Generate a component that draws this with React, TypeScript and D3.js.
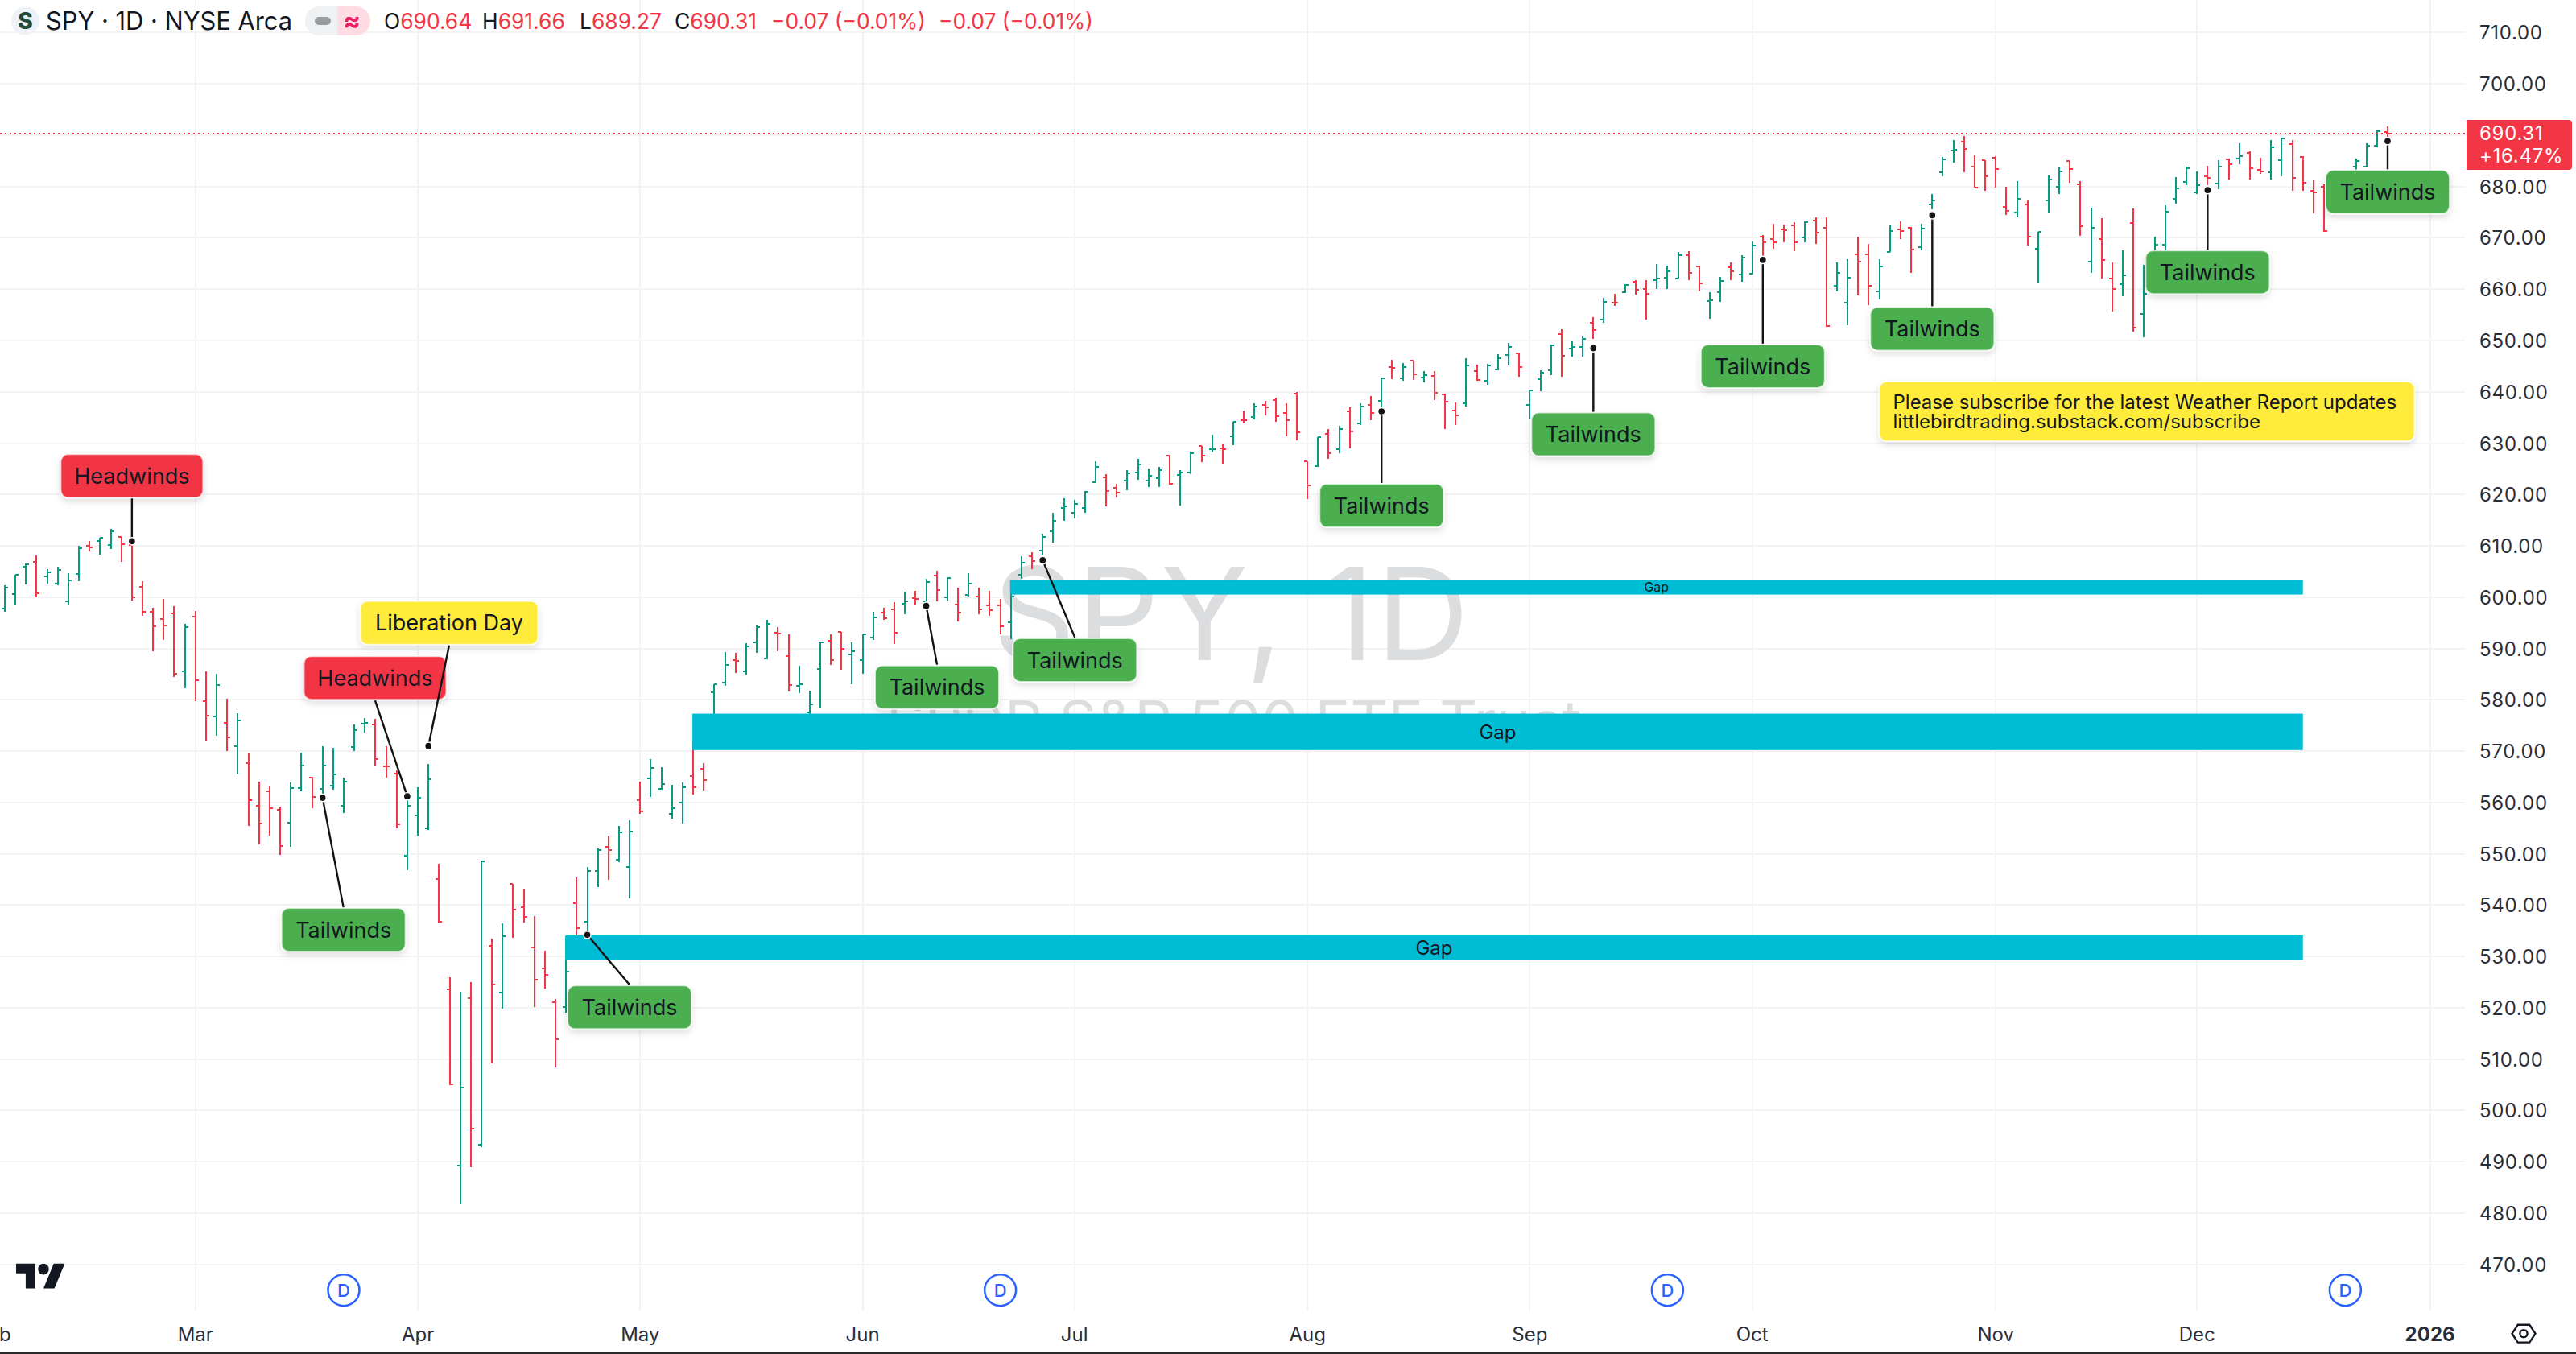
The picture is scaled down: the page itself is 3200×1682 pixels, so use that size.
import React from "react";
import * as d3 from "d3";

const opens = [
  597.7,600.6,605.9,606.8,604.0,602.6,599.2,604.5,610.0,610.9,
  610.1,611.7,610.1,602.0,597.1,595.8,596.8,585.5,596.2,579.7,
  576.7,575.5,570.9,567.6,559.3,562.2,558.6,556.0,562.8,564.9,
  562.7,563.2,559.3,570.8,575.3,575.2,567.1,565.6,549.7,557.4,
  555.0,545.0,523.6,489.2,521.8,493.3,532.1,522.9,544.1,539.6,
  531.7,527.6,521.1,520.1,540.3,536.7,546.6,551.3,548.9,547.5,
  560.5,564.7,562.7,557.8,560.0,565.2,566.5,581.4,583.3,587.7,
  585.5,591.2,588.1,593.0,588.5,582.7,577.5,586.0,591.5,593.2,
  588.9,587.7,592.1,597.0,597.6,598.7,599.8,599.2,604.2,600.0,
  598.6,600.4,600.2,598.4,598.4,595.1,604.4,608.0,609.1,612.8,
  617.3,616.4,617.3,622.4,623.3,621.3,622.7,624.3,622.7,623.2,
  627.6,623.8,624.2,629.4,628.8,629.0,631.4,634.5,635.1,637.5,
  638.4,635.9,639.7,626.4,625.5,631.8,628.9,636.2,633.9,637.5,
  638.2,644.8,642.7,646.0,642.8,643.1,639.5,636.3,637.7,644.0,
  642.1,644.4,647.1,647.5,637.4,642.5,644.2,651.3,648.5,648.8,
  653.5,654.1,657.4,659.4,661.4,660.0,661.8,662.3,662.1,666.6,
  664.5,657.7,659.4,664.3,662.8,663.0,670.3,669.8,671.7,672.5,
  670.1,673.3,672.0,660.7,657.3,666.8,666.8,659.6,667.3,671.6,
  672.0,668.2,676.5,682.8,687.0,688.8,683.9,685.1,685.6,676.1,
  674.9,676.5,667.9,677.3,680.0,684.9,680.4,665.4,669.8,662.1,
  660.9,672.9,655.1,665.8,668.7,677.6,680.9,678.9,682.0,680.6,
  685.3,685.5,686.6,683.2,682.7,685.2,688.2,685.8,679.2,680.0,
  676.5,680.0,683.9,683.9,687.9,690.64,
];
const highs = [
  602.3,604.4,606.5,608.2,605.5,606.0,604.6,610.0,611.0,611.6,
  613.3,611.8,610.9,603.1,598.0,599.7,598.2,594.8,597.3,585.5,
  585.0,580.2,577.4,569.6,564.1,563.2,559.2,563.9,569.7,565.0,
  571.0,570.7,564.9,575.2,576.5,576.3,571.0,566.3,561.0,563.0,
  567.5,548.1,526.0,523.1,525.0,548.7,533.5,536.5,544.2,543.2,
  537.9,531.1,521.7,533.8,545.4,547.4,551.0,553.6,555.4,556.5,
  564.1,568.5,566.8,563.5,563.9,572.0,567.6,583.1,589.3,589.1,
  591.1,594.5,595.6,594.1,592.7,586.7,581.8,591.4,592.8,593.3,
  591.2,592.8,597.2,598.0,599.1,601.0,601.3,603.5,605.2,603.8,
  601.9,604.6,601.8,601.3,599.6,602.0,607.9,608.7,612.4,616.5,
  619.3,618.9,620.6,626.4,624.0,622.1,624.8,627.0,625.0,625.3,
  627.8,624.8,628.4,629.5,631.6,629.8,634.2,636.3,637.7,638.2,
  638.8,637.7,639.9,626.4,631.2,632.7,633.4,637.0,637.7,639.1,
  642.8,646.3,645.6,646.1,644.1,644.1,639.7,637.9,646.5,645.3,
  645.4,647.3,649.5,647.7,640.4,644.2,649.2,652.2,649.8,650.8,
  654.5,658.3,659.1,661.0,661.7,661.7,664.9,664.6,667.2,667.4,
  664.6,659.4,662.4,665.2,666.6,669.3,670.5,672.7,672.6,673.0,
  673.2,674.0,674.0,665.2,665.9,670.3,668.8,665.8,672.4,673.2,
  672.1,672.8,678.6,685.7,689.0,689.8,686.0,685.2,685.9,680.0,
  681.0,677.5,671.1,682.2,683.7,685.0,681.0,675.8,673.8,665.2,
  667.5,675.7,664.7,670.2,676.3,681.8,683.8,683.0,684.0,685.1,
  685.5,688.5,686.8,685.6,689.0,689.3,689.0,685.9,681.2,680.5,
  682.0,683.0,685.4,688.4,690.9,691.66,
];
const lows = [
  597.2,598.4,602.5,600.0,602.6,602.3,598.4,603.1,608.9,608.3,
  609.4,606.9,599.3,596.3,589.4,591.6,584.4,582.2,579.7,572.0,
  573.0,570.0,565.4,555.4,551.8,553.5,549.8,551.3,562.2,558.8,
  561.3,562.5,558.0,570.0,573.6,567.0,564.8,555.0,546.8,553.5,
  554.6,536.6,504.9,481.7,489.0,492.8,509.1,519.9,533.7,536.6,
  520.1,523.7,508.3,519.0,533.9,534.8,543.5,544.9,548.3,541.3,
  557.8,561.0,562.5,556.8,555.9,561.5,562.4,577.0,582.7,585.3,
  584.9,589.2,587.9,589.5,581.6,581.3,577.0,578.4,586.8,585.9,
  583.0,585.1,591.7,595.5,590.9,596.7,598.4,598.4,599.2,599.4,
  595.3,600.2,596.7,596.4,592.8,591.8,603.5,605.5,608.1,610.6,
  614.9,615.3,616.4,622.2,617.7,619.4,620.8,622.9,621.5,621.5,
  622.0,617.9,624.0,626.3,628.2,626.0,629.6,633.9,634.6,635.4,
  634.2,631.3,630.5,619.1,625.4,626.9,628.0,629.0,633.5,634.5,
  636.6,642.5,642.2,642.3,641.9,638.4,632.7,633.6,637.1,642.1,
  641.3,644.2,645.1,642.9,634.8,640.1,643.3,643.0,646.9,646.9,
  650.3,653.4,656.7,659.2,659.0,654.0,660.0,660.1,662.0,661.7,
  659.5,654.2,657.6,661.7,661.4,662.8,666.5,667.9,669.2,667.4,
  669.2,668.8,652.6,659.6,653.0,658.8,656.9,658.0,667.2,669.8,
  663.2,667.6,675.6,682.0,684.7,682.8,679.8,679.1,679.8,674.5,
  674.0,668.5,661.1,675.0,678.6,680.8,670.4,663.2,662.1,655.7,
  658.7,651.8,650.7,665.0,667.0,676.6,680.3,678.6,680.2,679.5,
  681.3,684.4,681.4,682.5,681.3,682.0,679.1,679.1,674.8,671.1,
  676.0,678.0,682.0,683.7,687.7,689.27,
];
const closes = [
  601.9,604.3,606.4,600.7,604.8,605.3,603.3,609.6,609.7,611.5,
  612.9,610.3,599.9,597.1,594.3,594.5,585.1,594.1,583.8,576.9,
  582.9,572.7,575.9,560.5,555.9,558.8,551.5,562.8,567.2,561.0,
  567.2,565.4,564.0,574.1,575.5,568.5,567.0,555.7,559.3,560.9,
  564.5,536.7,505.1,504.4,496.4,548.6,524.5,533.9,539.1,537.7,
  525.5,526.4,513.8,527.1,535.5,546.6,550.7,550.8,554.2,554.4,
  558.3,566.7,563.6,558.9,563.0,563.0,564.4,583.0,586.8,587.6,
  590.4,594.2,594.8,592.9,582.9,583.0,579.1,591.2,587.8,590.0,
  589.4,592.8,596.1,595.9,593.1,599.2,599.6,603.0,601.4,603.7,
  597.0,602.6,597.6,597.4,594.4,600.1,606.7,607.1,611.8,614.8,
  617.7,618.1,620.5,625.4,620.6,620.3,624.1,625.9,623.6,624.8,
  622.1,624.3,628.0,627.6,628.9,628.8,634.2,634.4,637.1,637.0,
  635.3,634.4,632.1,621.8,631.2,628.0,632.8,632.3,637.1,635.9,
  642.7,644.7,644.9,643.4,643.2,639.8,638.1,635.4,645.2,642.3,
  645.1,646.6,648.8,644.9,640.2,643.8,649.0,647.0,648.8,650.3,
  652.1,657.6,657.3,660.8,659.9,659.1,662.1,663.5,666.7,663.1,
  661.1,657.9,661.6,663.5,666.1,668.5,669.2,669.1,671.5,669.1,
  673.0,671.0,652.8,663.1,662.3,665.3,660.7,664.5,671.3,671.4,
  667.7,671.8,677.3,685.3,687.2,687.4,679.8,682.0,683.4,675.2,
  677.6,670.2,671.1,681.4,683.0,683.4,672.2,672.0,665.7,660.0,
  662.7,652.5,659.1,668.7,675.1,679.6,683.5,680.3,681.6,683.9,
  684.4,685.9,683.6,683.0,687.7,689.3,681.7,680.8,678.9,671.3,
  681.0,682.0,684.9,688.0,690.7,690.31,
];

const priceTicks = d3.range(470, 711, 10);
const monthLabels = ["Feb", "Mar", "Apr", "May", "Jun", "Jul", "Aug", "Sep", "Oct", "Nov", "Dec", "2026"];
const monthBars = [-1, 18, 39, 60, 81, 101, 123, 144, 165, 188, 207, 229];
const dividendBars = [32, 94, 157, 221];

const calloutTexts = ["Headwinds", "Tailwinds", "Headwinds", "Liberation Day", "Tailwinds", "Tailwinds", "Tailwinds", "Tailwinds", "Tailwinds", "Tailwinds", "Tailwinds", "Tailwinds", "Tailwinds"];
const calloutBars = [12, 30, 38, 40, 55, 87, 98, 130, 150, 166, 182, 208, 225];
const calloutPrices = [610.9, 560.9, 561.2, 571.0, 534.2, 598.3, 607.2, 636.2, 648.5, 665.7, 674.4, 679.3, 688.84];

const gapLabels = ["Gap", "Gap", "Gap"];
const gapStartBars = [65, 53, 95];
const gapEndBar = 217;
const gapTops = [577.3, 534.1, 603.4];
const gapBottoms = [570.2, 529.3, 600.5];

const lastPrice = 690.31;
const ohlcItems = [
  ["O", "690.64", 477],
  ["H", "691.66", 599],
  ["L", "689.27", 720],
  ["C", "690.31", 838],
];

// layout (pixel offsets of each callout box relative to its anchor, box sizes, fonts)
const calloutOffsets = [[0, -81], [26, 164], [-40, -147], [25.7, -153], [52.5, 90], [13.5, 101], [40, 124], [0, 117], [0, 107], [0, 132], [0, 141], [0, 102], [0, 63]];
const calloutWidths: Record<string, number> = { Headwinds: 175, Tailwinds: 152, "Liberation Day": 219 };
const calloutFill: Record<string, string> = { Headwinds: "#F23645", Tailwinds: "#4CAF50", "Liberation Day": "#FFEB3B" };
const gapFonts = [24, 24, 16];

const FONT = "Inter, 'Noto Sans', sans-serif";
const GREEN = "#089981";
const RED = "#F23645";
const GRID = "#F3F3F4";
const TEXT = "#131722";
const AXIS = "#2A2E39";

const x = d3.scaleLinear().domain([0, 225]).range([6, 2966]);
const y = d3.scaleLinear().domain([470, 680]).range([1570.7, 231.7]);
const chartRight = 3062;
const chartBottom = 1628;

const hexagon = d3.range(6).map((i) => {
  const a = (i * Math.PI) / 3;
  return [3135 + 14.5 * Math.cos(a), 1656.7 + 12.6 * Math.sin(a)];
});

export default function App() {
  const top = (v: number) => Math.round(y(v));
  return (
    <svg
      width={3200}
      height={1682}
      viewBox="0 0 3200 1682"
      style={{ position: "absolute", left: 0, top: 0, display: "block", background: "#fff" }}
      fontFamily={FONT}
    >
      <defs>
        <filter id="sh" x="-20%" y="-30%" width="140%" height="170%">
          <feDropShadow dx="0" dy="4" stdDeviation="4" floodColor="#000" floodOpacity="0.13" />
        </filter>
      </defs>
      <rect x={0} y={0} width={3200} height={1682} fill="#fff" />

      {/* grid */}
      {monthBars.slice(1).map((b, i) => (
        <line key={i} x1={Math.round(x(b))} x2={Math.round(x(b))} y1={0} y2={chartBottom} stroke={GRID} strokeWidth={2} />
      ))}
      {priceTicks.map((p) => (
        <line key={p} x1={0} x2={chartRight} y1={top(p)} y2={top(p)} stroke={GRID} strokeWidth={2} />
      ))}

      {/* watermark */}
      <text x={1530} y={820} textAnchor="middle" fontSize={160} letterSpacing={2} fill="#DCDDDF">SPY, 1D</text>
      <text x={1533} y={923} textAnchor="middle" fontSize={73} fill="#DCDDDF">SPDR S&amp;P 500 ETF Trust</text>

      {/* OHLC bars */}
      {opens.map((o, i) => {
        const c = closes[i];
        const col = c < o ? RED : GREEN;
        const cx = Math.round(x(i));
        return (
          <g key={i} stroke={col} strokeWidth={2} fill="none">
            <line x1={cx} x2={cx} y1={top(highs[i])} y2={top(lows[i])} />
            <line x1={cx - 4} x2={cx} y1={top(o)} y2={top(o)} />
            <line x1={cx} x2={cx + 4} y1={top(c)} y2={top(c)} />
          </g>
        );
      })}

      {/* gap zones */}
      {gapLabels.map((g, i) => {
        const x0 = x(gapStartBars[i]) - 1;
        const x1 = x(gapEndBar);
        const yt = y(gapTops[i]);
        const yb = y(gapBottoms[i]);
        return (
          <g key={i}>
            <rect x={x0} y={yt} width={x1 - x0} height={yb - yt} fill="#00BCD4" />
            <text x={(x0 + x1) / 2} y={(yt + yb) / 2} dy="0.36em" textAnchor="middle" fontSize={gapFonts[i]} fill={TEXT}>{g}</text>
          </g>
        );
      })}

      {/* last price line */}
      <line x1={0} x2={chartRight} y1={y(lastPrice)} y2={y(lastPrice)} stroke={RED} strokeWidth={2} strokeDasharray="2 4" />

      {/* callouts */}
      {calloutTexts.map((t, i) => {
        const ax = x(calloutBars[i]);
        const ay = y(calloutPrices[i]);
        const [dx, dy] = calloutOffsets[i];
        const w = calloutWidths[t];
        const h = 52;
        const cx = ax + dx;
        const cy = ay + dy;
        const ey = dy > 0 ? cy - h / 2 : cy + h / 2;
        return (
          <g key={i}>
            <rect x={cx - w / 2 - 1} y={cy - h / 2 - 1} width={w + 2} height={h + 2} rx={9} fill={calloutFill[t]} stroke="#fff" strokeOpacity={0.7} strokeWidth={2} filter="url(#sh)" />
            <text x={cx} y={cy} dy="0.36em" textAnchor="middle" fontSize={27} fill={TEXT}>{t}</text>
            <line x1={ax} y1={ay} x2={cx} y2={ey - (dy > 0 ? 2 : -2)} stroke="#131313" strokeWidth={2.4} />
            <circle cx={ax} cy={ay} r={4.6} fill="#131313" stroke="#fff" strokeWidth={1.5} />
          </g>
        );
      })}

      {/* subscribe note */}
      <rect x={2334.5} y={474} width={665} height={74} rx={9} fill="#FFEB3B" stroke="#fff" strokeOpacity={0.7} strokeWidth={2} filter="url(#sh)" />
      <text x={2351.5} y={508} fontSize={24} fill={TEXT}>Please subscribe for the latest Weather Report updates</text>
      <text x={2351.5} y={532} fontSize={24} fill={TEXT}>littlebirdtrading.substack.com/subscribe</text>

      {/* header */}
      <circle cx={31.5} cy={26} r={17.5} fill="#EEF2F8" />
      <text x={31.5} y={36} textAnchor="middle" fontSize={28} fontWeight={800} fill="#1F4D3A">S</text>
      <text x={57} y={37} fontSize={30.8} fill={TEXT}>SPY · 1D · NYSE Arca</text>
      <path d="M397,8 a18,18 0 0 0 0,36 h22 v-36 z" fill="#F0F1F2" />
      <path d="M442,8 a18,18 0 0 1 0,36 h-23 v-36 z" fill="#FFDCE4" />
      <rect x={391} y={21} width={20} height={10} rx={5} fill="#9A9CA1" />
      <text x={437} y={37} textAnchor="middle" fontSize={32} fontWeight={700} fill="#E91E63">≈</text>
      {ohlcItems.map(([l, v, px]) => (
        <text key={String(l)} x={px as number} y={36} fontSize={26.4}>
          <tspan fill={TEXT}>{l}</tspan>
          <tspan fill={RED}>{v}</tspan>
        </text>
      ))}
      <text x={958} y={36} fontSize={26.4} fill={RED}>−0.07 (−0.01%)</text>
      <text x={1166} y={36} fontSize={26.4} fill={RED}>−0.07 (−0.01%)</text>

      {/* price axis */}
      {priceTicks.filter((p) => p !== 690).map((p) => (
        <text key={p} x={3080} y={top(p)} dy="0.36em" fontSize={24} letterSpacing={0.7} fill={AXIS}>{p.toFixed(2)}</text>
      ))}
      <path d="M3064,149 H3191 a4,4 0 0 1 4,4 V207 a4,4 0 0 1 -4,4 H3064 Z" fill={RED} />
      <text x={3080} y={174} fontSize={24} letterSpacing={0.7} fill="#fff">{lastPrice.toFixed(2)}</text>
      <text x={3080} y={202} fontSize={24} letterSpacing={0.7} fill="#fff">+16.47%</text>

      {/* dividends */}
      {dividendBars.map((b) => (
        <g key={b}>
          <circle cx={x(b)} cy={1602.7} r={19.5} fill="#fff" stroke="#2962FF" strokeWidth={2.5} />
          <text x={x(b)} y={1602.7} dy="0.36em" textAnchor="middle" fontSize={22} fontWeight={500} fill="#2962FF">D</text>
        </g>
      ))}

      {/* time axis */}
      {monthLabels.map((m, i) => (
        <text key={m} x={x(monthBars[i])} y={1657} dy="0.36em" textAnchor="middle" fontSize={24} fontWeight={m === "2026" ? 700 : 400} fill={AXIS}>{m}</text>
      ))}
      <polygon points={hexagon.map((p) => p.join(",")).join(" ")} fill="none" stroke={TEXT} strokeWidth={2.4} />
      <circle cx={3135} cy={1656.7} r={4.6} fill="none" stroke={TEXT} strokeWidth={2.4} />

      {/* logo */}
      <g transform="translate(20,1563) scale(1.7)" fill="#131722">
        <path d="M14 22H7V11H0V4h14v18ZM28 22h-8l7.5-18h8L28 22Z" />
        <circle cx={20} cy={8} r={4} />
      </g>

      <rect x={0} y={1680} width={3200} height={2} fill="#2B2B2B" />
    </svg>
  );
}
